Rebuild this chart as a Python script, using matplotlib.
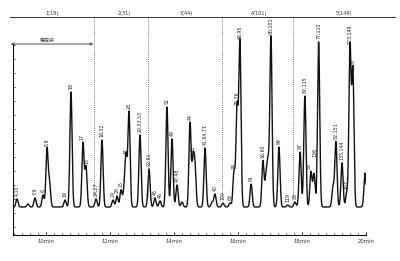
import numpy as np
import matplotlib
matplotlib.use("Agg")
import matplotlib.pyplot as plt
from matplotlib.ticker import MultipleLocator

plt.rcParams['font.family'] = ['DejaVu Sans']

# ---- data ----
peak_times = [9.094, 9.4375, 9.656, 9.906, 10.031, 10.109, 10.594, 10.781,
              11.156, 11.25, 11.5625, 11.75, 12.094, 12.219, 12.344, 12.4375,
              12.5, 12.594, 12.9375, 13.219, 13.406, 13.5625, 13.78, 13.9375,
              14.094, 14.25, 14.5, 14.594, 14.656, 14.97, 15.19, 15.28,
              15.53, 15.75, 15.875, 15.97, 16.06, 16.41, 16.78, 16.875,
              16.94, 17.03, 17.28, 17.55, 17.78, 17.94, 18.09, 18.28,
              18.375, 18.52, 18.97, 19.06, 19.25, 19.40, 19.5, 19.59, 19.97]
peak_heights = [8, 3, 9, 12, 58, 24, 7, 115,
                64, 40, 8, 67, 7, 11, 17, 14,
                50, 95, 72, 38, 9, 6, 100, 68,
                22, 5, 84, 45, 38, 59, 5, 13,
                4, 4, 35, 99, 165, 23, 46, 28,
                42, 170, 60, 2, 5, 55, 111, 35,
                33, 165, 20, 65, 44, 15, 160, 136, 34]
peak_labels = ["4,10", "", "7,9", "6", "5,8", "", "19", "18",
               "17", "15", "24,27", "16,32", "29", "26", "25", "",
               "31", "28", "20,33,53", "22,51", "45", "46", "52", "49",
               "47,48", "", "44", "37,42", "", "41,64,71", "", "40",
               "100", "63", "74", "70,76", "66,95", "91", "56,60", "",
               "", "90,101", "99", "119", "83", "97", "87,115", "85",
               "136", "77,110", "", "82,151", "135,144", "107", "123,149", "118", ""]
peak_sigma = 0.034  # minutes

section_labels = ["1(18)", "2(31)", "3(44)", "4(101)", "5(149)"]
section_label_x = [10.19, 12.44, 14.38, 16.66, 19.31]
divider_times = [11.5, 13.19, 15.5, 17.72]
tick_times = [10, 12, 14, 16, 18, 20]
tick_labels = ["10min", "12min", "14min", "16min", "18min", "20min"]
arrow_label = "稳定段"

# ---- figure ----
fig = plt.figure(figsize=(4, 2.61), dpi=100)
fig.patch.set_facecolor("white")
ax = fig.add_axes([13/400, (261-235)/261, (366-13)/400, (235-17)/261])
ax.set_xlim(9 - 1/32, 20)
ax.set_ylim(-28, 190)

t = np.linspace(9.0, 20.0, 6000)
sig = np.zeros_like(t)
for tc, h in zip(peak_times, peak_heights):
    sig += h * np.exp(-0.5 * ((t - tc) / peak_sigma) ** 2)
ax.plot(t, sig, color="#111111", lw=1.0)

label_nudge = {"85": (-0.05, 0), "136": (0.03, 14), "15": (0.03, 0), "17": (-0.03, 0)}
for tc, h, lab in zip(peak_times, peak_heights, peak_labels):
    if lab:
        dx, dy = label_nudge.get(lab, (0, 0))
        ax.text(tc + dx, h + 3 + dy, lab, rotation=90, ha="center", va="bottom",
                fontsize=3.4, color="#222222")

# section header line
ax.plot([8.875, 20.906], [190, 190], color="#333333", lw=0.7, clip_on=False)
for x, s in zip(section_label_x, section_labels):
    ax.text(x, 191.5, s, ha="center", va="bottom", fontsize=3.6, color="#333333")

ax.vlines(divider_times, 10, 190, colors="#444444", linestyles=(0, (1, 1.5)), lw=0.6)

ax.annotate("", xy=(11.47, 163), xytext=(8.906, 163),
            arrowprops=dict(arrowstyle="<->", lw=0.6, color="#333333",
                            shrinkA=0, shrinkB=0, mutation_scale=4),
            annotation_clip=False)
ax.text(10.03, 164.5, arrow_label, ha="center", va="bottom", fontsize=3.6,
        family=["Noto Sans CJK SC", "DejaVu Sans"], color="#333333")

for s in ["top", "right"]:
    ax.spines[s].set_visible(False)
ax.spines["left"].set_bounds(-28, 163)
ax.spines["left"].set_linewidth(0.7)
ax.spines["bottom"].set_linewidth(0.7)

ax.set_xticks(tick_times)
ax.set_xticklabels(tick_labels, fontsize=3.8, color="#333333")
ax.xaxis.set_minor_locator(MultipleLocator(0.25))
ax.tick_params(axis="x", which="major", direction="in", length=2.5, width=0.6, pad=3)
ax.tick_params(axis="x", which="minor", direction="in", length=1.2, width=0.5)
ax.set_yticks(np.arange(-20, 163, 14))
ax.set_yticklabels([])
ax.tick_params(axis="y", which="major", direction="in", length=1.5, width=0.5)

fig.savefig("out.png", dpi=100, facecolor="white")
